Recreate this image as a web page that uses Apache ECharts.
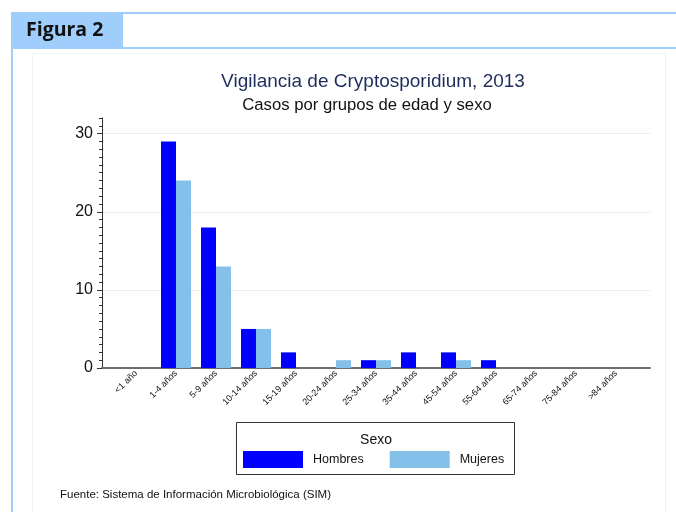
<!DOCTYPE html>
<html>
<head>
<meta charset="utf-8">
<script src="https://cdn.jsdelivr.net/npm/echarts@6/dist/echarts.min.js"></script>
<style>
  html, body { margin: 0; padding: 0; background: #fff; }
  #chart { width: 676px; height: 512px; }
</style>
</head>
<body>
<div id="chart"></div>
<script>
const categories = ['<1 año', '1-4 años', '5-9 años', '10-14 años', '15-19 años', '20-24 años',
  '25-34 años', '35-44 años', '45-54 años', '55-64 años', '65-74 años', '75-84 años', '>84 años']
const hombres = [0, 29, 18, 5, 2, 0, 1, 2, 2, 1, 0, 0, 0]
const mujeres = [0, 24, 13, 5, 0, 1, 1, 0, 1, 0, 0, 0, 0]
const yTicks = [0, 10, 20, 30]
const yMax = 32

const frameBlue = '#9fcdfc'
const font = 'Liberation Sans, Arial, sans-serif'

const chart = echarts.init(document.getElementById('chart'))
const option = {
  animation: false,
  textStyle: { fontFamily: font },
  title: [
    {
      text: 'Vigilancia de Cryptosporidium, 2013',
      left: 373, top: 72, textAlign: 'center', padding: 0,
      textStyle: { fontSize: 19, fontWeight: 'normal', color: '#1f2d5c', fontFamily: font }
    },
    {
      text: 'Casos por grupos de edad y sexo',
      left: 367, top: 97, textAlign: 'center', padding: 0,
      textStyle: { fontSize: 16.7, fontWeight: 'normal', color: '#111', fontFamily: font }
    },
    {
      text: 'Fuente: Sistema de Información Microbiológica (SIM)',
      left: 60, top: 489, padding: 0,
      textStyle: { fontSize: 11.5, fontWeight: 'normal', color: '#111', fontFamily: font }
    }
  ],
  graphic: [
    // marco de la figura
    { type: 'rect', shape: { x: 11, y: 12, width: 112, height: 35 }, style: { fill: frameBlue }, silent: true },
    { type: 'line', shape: { x1: 11, y1: 13, x2: 676, y2: 13 }, style: { stroke: frameBlue, lineWidth: 2 }, silent: true },
    { type: 'line', shape: { x1: 11, y1: 48, x2: 676, y2: 48 }, style: { stroke: frameBlue, lineWidth: 2 }, silent: true },
    { type: 'line', shape: { x1: 12, y1: 12, x2: 12, y2: 512 }, style: { stroke: frameBlue, lineWidth: 2 }, silent: true },
    { type: 'rect', shape: { x: 32.5, y: 53.5, width: 633, height: 500 }, style: { fill: 'none', stroke: '#edf3f3', lineWidth: 1 }, silent: true },
    {
      type: 'text', left: 26, top: 20,
      style: { text: 'Figura 2', fontSize: 19.5, fontWeight: 'bold', fontFamily: 'Open Sans', fill: '#111' }
    },
    // caja de la leyenda
    { type: 'rect', shape: { x: 236.5, y: 422.5, width: 278, height: 52 }, style: { fill: 'none', stroke: '#333', lineWidth: 1 }, silent: true },
    {
      type: 'text', x: 376, y: 440,
      style: { text: 'Sexo', fontSize: 14, fontFamily: font, fill: '#111', align: 'center', verticalAlign: 'middle' }
    }
  ],
  legend: {
    left: 243, top: 451,
    itemWidth: 60, itemHeight: 17, itemGap: 26,
    icon: 'rect',
    padding: 0,
    textStyle: { fontSize: 12.5, color: '#111', padding: [0, 0, 0, 5], fontFamily: font },
    data: ['Hombres', 'Mujeres']
  },
  grid: [
    { left: 102, right: 26, top: 118, bottom: 144 },
    { left: 116, right: 40, top: 118, bottom: 144 }
  ],
  xAxis: [
    {
      gridIndex: 0, type: 'value', min: 0, max: 1,
      axisLine: { show: true, lineStyle: { color: '#6e6e6e', width: 2 } },
      axisTick: { show: false }, axisLabel: { show: false }, splitLine: { show: false }
    },
    {
      gridIndex: 1, type: 'category', data: categories, boundaryGap: true,
      axisLine: { show: false }, axisTick: { show: false },
      axisLabel: { interval: 0, rotate: 45, fontSize: 9, margin: 4, color: '#111', fontFamily: font }
    }
  ],
  yAxis: [
    {
      gridIndex: 0, type: 'value', min: 0, max: yMax, interval: 10, position: 'left',
      axisLine: { show: true, lineStyle: { color: '#333', width: 1 } },
      axisTick: { show: true, inside: false, length: 5, customValues: yTicks, lineStyle: { color: '#333' } },
      axisLabel: { customValues: yTicks, fontSize: 16, color: '#111', margin: 9, fontFamily: font },
      splitLine: { show: false }
    },
    {
      gridIndex: 0, type: 'value', min: 0, max: yMax, interval: 1, position: 'left', offset: 0,
      axisLine: { show: false },
      axisTick: { show: true, inside: false, length: 3, lineStyle: { color: '#333' } },
      axisLabel: { show: false }, splitLine: { show: false }
    },
    { gridIndex: 1, type: 'value', min: 0, max: yMax, show: false }
  ],
  series: [
    {
      // líneas de cuadrícula, por debajo de las barras
      type: 'line', xAxisIndex: 0, yAxisIndex: 0, data: [],
      silent: true, z: 0,
      markLine: {
        silent: true, symbol: 'none', label: { show: false }, z: 0,
        lineStyle: { color: '#e6eeee', type: 'solid', width: 1 },
        data: yTicks.slice(1).map(v => ({ yAxis: v }))
      }
    },
    {
      name: 'Hombres', type: 'bar', xAxisIndex: 1, yAxisIndex: 2,
      data: hombres, barWidth: 15, barGap: '0%', z: 3,
      itemStyle: { color: '#0000ff' }
    },
    {
      name: 'Mujeres', type: 'bar', xAxisIndex: 1, yAxisIndex: 2,
      data: mujeres, barWidth: 15, barGap: '0%', z: 3,
      itemStyle: { color: '#85c0ea' }
    }
  ]
}
chart.setOption(option)
</script>
</body>
</html>
